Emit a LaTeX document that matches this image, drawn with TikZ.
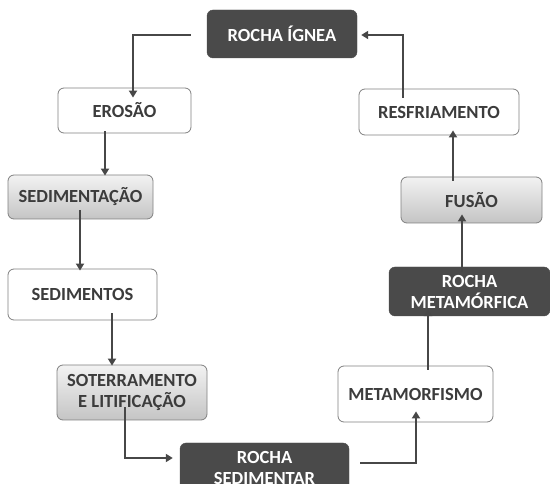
\documentclass[tikz,border=0pt]{standalone}
\usepackage{fontspec}
\setmainfont{Carlito}
\usetikzlibrary{arrows.meta}
\definecolor{darkbox}{HTML}{4A4A4A}
\definecolor{txt}{HTML}{3C3C3C}
\definecolor{bord}{HTML}{808080}
\definecolor{arr}{HTML}{474747}
\tikzset{
  base/.style={rounded corners=6pt, align=center, inner sep=0pt,
    font=\fontsize{18.5pt}{21pt}\selectfont\bfseries},
  whitebox/.style={base, draw=bord, line width=0.8pt, fill=white, text=txt},
  graybox/.style={base, draw=bord, line width=0.8pt, top color=white!95!black, bottom color=white!77!black, text=txt},
  darkbx/.style={base, fill=darkbox, draw=darkbox, text=white},
  conn/.style={draw=arr, line width=2.2pt, -{Triangle[length=7pt,width=8pt]}}
}
\begin{document}
\begin{tikzpicture}[x=1pt,y=-1pt]
\useasboundingbox (0,0) rectangle (550,484);
\node[darkbx, minimum width=150pt, minimum height=48pt] (ignea) at (282,34) {ROCHA ÍGNEA};
\node[whitebox, minimum width=133pt, minimum height=45pt] (erosao) at (124.5,110.5) {EROSÃO};
\node[graybox, minimum width=145pt, minimum height=44pt] (sedtacao) at (80.5,197) {SEDIMENTAÇÃO};
\node[whitebox, minimum width=149pt, minimum height=51pt] (sedtos) at (82.5,294.5) {SEDIMENTOS};
\node[graybox, minimum width=150pt, minimum height=55pt] (soter) at (132,392.5) {SOTERRAMENTO\\E LITIFICAÇÃO};
\node[darkbx, minimum width=169pt, minimum height=49pt] (rsed) at (264.5,467.5) {ROCHA\\SEDIMENTAR};
\node[whitebox, minimum width=155pt, minimum height=56pt] (meta) at (415.5,394) {METAMORFISMO};
\node[darkbx, minimum width=161pt, minimum height=49pt] (rmeta) at (469.5,291.5) {ROCHA\\METAMÓRFICA};
\node[graybox, minimum width=141pt, minimum height=46pt] (fusao) at (471.5,200) {FUSÃO};
\node[whitebox, minimum width=160pt, minimum height=46pt] (resf) at (439,112) {RESFRIAMENTO};

\draw[conn] ([xshift=-16pt,yshift=-1pt]ignea.west) -| ([xshift=8.5pt,yshift=-10pt]erosao.north);
\draw[conn] ([xshift=-36pt,yshift=-9pt]resf.north) |- ([xshift=4pt,yshift=-1pt]ignea.east);
\draw[conn] ([xshift=-19.5pt,yshift=2pt]erosao.south) coordinate (a1) -- ([yshift=-1pt]a1 |- sedtacao.north);
\draw[conn] ([xshift=-0.5pt,yshift=9pt]sedtacao.south) coordinate (a2) -- ([yshift=-2pt]a2 |- sedtos.north);
\draw[conn] ([xshift=29.5pt,yshift=7pt]sedtos.south) coordinate (a3) -- ([yshift=-1pt]a3 |- soter.north);
\draw[conn] ([xshift=-7pt,yshift=13pt]soter.south) |- ([xshift=-7pt,yshift=9.5pt]rsed.west);
\draw[conn] ([xshift=11pt,yshift=4.5pt]rsed.east) -| ([xshift=0.5pt,yshift=11pt]meta.south);
\draw[conn] ([xshift=12.5pt,yshift=-4pt]meta.north) coordinate (a4) -- ([yshift=7pt]a4 |- rmeta.south);
\draw[conn] ([xshift=-7.5pt,yshift=-5pt]rmeta.north) coordinate (a5) -- ([yshift=9pt]a5 |- fusao.south);
\draw[conn] ([xshift=-18.5pt,yshift=-4pt]fusao.north) coordinate (a6) -- ([yshift=5pt]a6 |- resf.south);
\end{tikzpicture}
\end{document}
